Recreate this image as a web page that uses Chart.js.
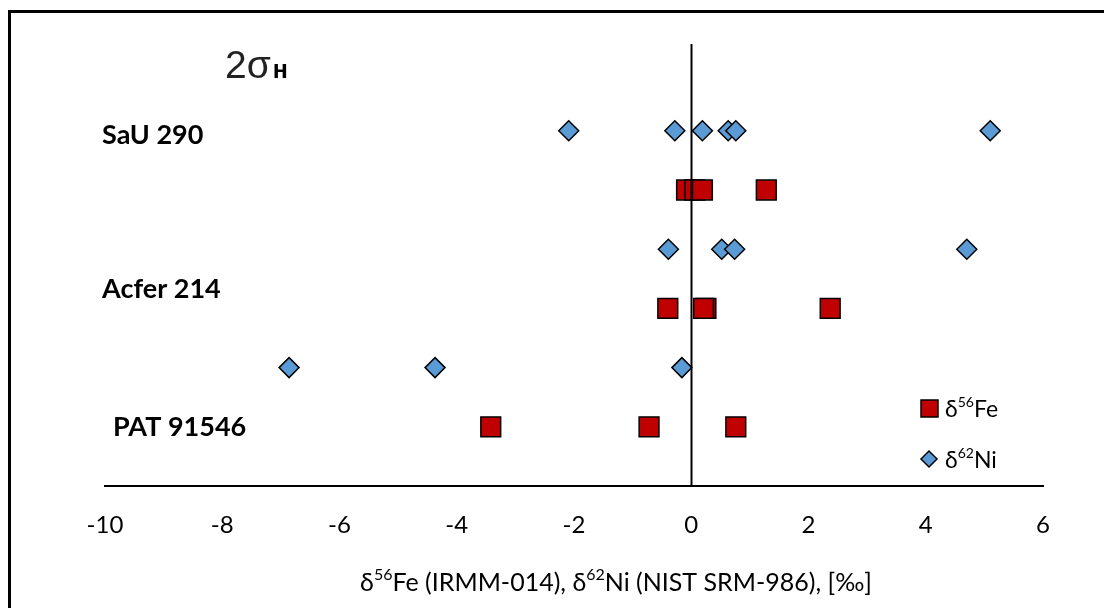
<!DOCTYPE html>
<html>
<head>
<meta charset="utf-8">
<script src="https://cdn.jsdelivr.net/npm/chart.js@4"></script>
<style>
  html, body { margin: 0; padding: 0; background: #fff; }
  #wrap { width: 1104px; height: 608px; position: relative; }
</style>
</head>
<body>
<div id="wrap"><canvas id="chart" width="1104" height="608"></canvas></div>
<script>
// x values (per mil), one row per series/meteorite
const sauNi = [-2.09, -0.28, 0.19, 0.63, 0.76, 5.10];
const sauFe = [-0.08, 0.06, 0.19, 1.28];
const acferNi = [-0.39, 0.52, 0.74, 4.70];
const acferFe = [-0.40, 0.25, 0.21, 2.37];
const patNi = [-6.86, -4.37, -0.16];
const patFe = [-3.42, -0.72, 0.76];

// vertical row of each group (y value)
const rowSauNi = 6, rowSauFe = 5, rowAcferNi = 4, rowAcferFe = 3, rowPatNi = 2, rowPatFe = 1;

const groupNames = ['SaU 290', 'Acfer 214', 'PAT 91546'];
const groupRows = [5.93, 3.33, 1.0];
const groupIndent = [0, 0, 11];

const xTicks = [-10, -8, -6, -4, -2, 0, 2, 4, 6];

const FONT = 'Lato, "Open Sans", sans-serif';
const RED = '#C00000';
const BLUE = '#5B9BD5';

function pts(xs, row) {
  return xs.map(x => ({ x: x, y: row }));
}

const feData = [].concat(pts(sauFe, rowSauFe), pts(acferFe, rowAcferFe), pts(patFe, rowPatFe));
const niData = [].concat(pts(sauNi, rowSauNi), pts(acferNi, rowAcferNi), pts(patNi, rowPatNi));

// text with superscript parts: [[text, isSup], ...]
function drawRich(ctx, parts, x, y, size, align) {
  const supSize = Math.round(size * 0.62);
  let total = 0;
  parts.forEach(p => {
    ctx.font = (p[1] ? supSize : size) + 'px ' + FONT;
    total += ctx.measureText(p[0]).width;
  });
  let cx = align === 'center' ? x - total / 2 : x;
  ctx.textAlign = 'left';
  ctx.textBaseline = 'middle';
  parts.forEach(p => {
    ctx.font = (p[1] ? supSize : size) + 'px ' + FONT;
    ctx.fillText(p[0], cx, p[1] ? y - size * 0.32 : y);
    cx += ctx.measureText(p[0]).width;
  });
}

const extras = {
  id: 'extras',
  beforeDraw(chart) {
    const ctx = chart.ctx;
    ctx.save();
    ctx.fillStyle = '#fff';
    ctx.fillRect(0, 0, chart.width, chart.height);
    // outer frame (left and top edges visible)
    ctx.strokeStyle = '#000';
    ctx.lineWidth = 3;
    ctx.beginPath();
    ctx.moveTo(9.5, chart.height + 2);
    ctx.lineTo(9.5, 11.5);
    ctx.lineTo(chart.width + 2, 11.5);
    ctx.stroke();
    ctx.restore();
  },
  afterDatasetsDraw(chart) {
    const ctx = chart.ctx;
    const xs = chart.scales.x, ys = chart.scales.y;
    ctx.save();
    // zero line
    const x0 = Math.round(xs.getPixelForValue(0)) + 0.5;
    ctx.strokeStyle = '#000';
    ctx.lineWidth = 2;
    ctx.beginPath();
    ctx.moveTo(x0, 44);
    ctx.lineTo(x0, chart.chartArea.bottom);
    ctx.stroke();

    // group names
    ctx.fillStyle = '#000';
    ctx.font = 'bold 27px ' + FONT;
    ctx.textAlign = 'left';
    ctx.textBaseline = 'middle';
    groupNames.forEach((n, i) => {
      ctx.fillText(n, 102 + groupIndent[i], ys.getPixelForValue(groupRows[i]));
    });

    // 2σн
    ctx.fillStyle = '#222';
    ctx.textBaseline = 'alphabetic';
    ctx.font = '39px "Liberation Sans", Arial, sans-serif';
    ctx.fillText('2σ', 225, 78);
    const w = ctx.measureText('2σ').width;
    ctx.fillStyle = '#000';
    ctx.font = 'bold 25px "Liberation Sans", Arial, sans-serif';
    ctx.fillText('н', 225 + w + 2, 78);

    // legend
    ctx.fillStyle = RED;
    ctx.strokeStyle = '#000';
    ctx.lineWidth = 1.5;
    ctx.fillRect(921, 400, 17, 17);
    ctx.strokeRect(921, 400, 17, 17);
    ctx.fillStyle = BLUE;
    ctx.beginPath();
    ctx.moveTo(921, 459);
    ctx.lineTo(929, 451);
    ctx.lineTo(937, 459);
    ctx.lineTo(929, 467);
    ctx.closePath();
    ctx.fill();
    ctx.stroke();
    ctx.fillStyle = '#000';
    drawRich(ctx, [['δ', false], ['56', true], ['Fe', false]], 945, 410, 23, 'left');
    drawRich(ctx, [['δ', false], ['62', true], ['Ni', false]], 945, 461, 23, 'left');

    // axis title
    drawRich(ctx, [['δ', false], ['56', true], ['Fe (IRMM-014), δ', false], ['62', true], ['Ni (NIST SRM-986), [‰]', false]], 616, 583, 25, 'center');
    ctx.restore();
  }
};

new Chart(document.getElementById('chart'), {
  type: 'scatter',
  data: {
    datasets: [
      {
        label: 'δ62Ni',
        data: niData,
        pointStyle: 'rectRot',
        pointRadius: 10,
        pointHoverRadius: 10,
        backgroundColor: BLUE,
        borderColor: '#000',
        borderWidth: 1.5
      },
      {
        label: 'δ56Fe',
        data: feData,
        pointStyle: 'rect',
        pointRadius: 14,
        pointHoverRadius: 14,
        backgroundColor: RED,
        borderColor: '#000',
        borderWidth: 1.5
      }
    ]
  },
  options: {
    responsive: false,
    animation: false,
    layout: { padding: { left: 105, right: 61, top: 42, bottom: 0 } },
    plugins: {
      legend: { display: false },
      tooltip: { enabled: false }
    },
    scales: {
      x: {
        type: 'linear',
        min: -10,
        max: 6,
        afterBuildTicks: axis => { axis.ticks = xTicks.map(v => ({ value: v })); },
        grid: { display: false, drawTicks: false },
        border: { display: true, color: '#000', width: 2 },
        ticks: {
          color: '#000',
          padding: 25,
          font: { family: FONT, size: 24 },
          maxRotation: 0
        },
        afterFit: axis => { axis.height = 122; }
      },
      y: {
        display: false,
        min: 0,
        max: 7.5
      }
    }
  },
  plugins: [extras]
});
</script>
</body>
</html>
